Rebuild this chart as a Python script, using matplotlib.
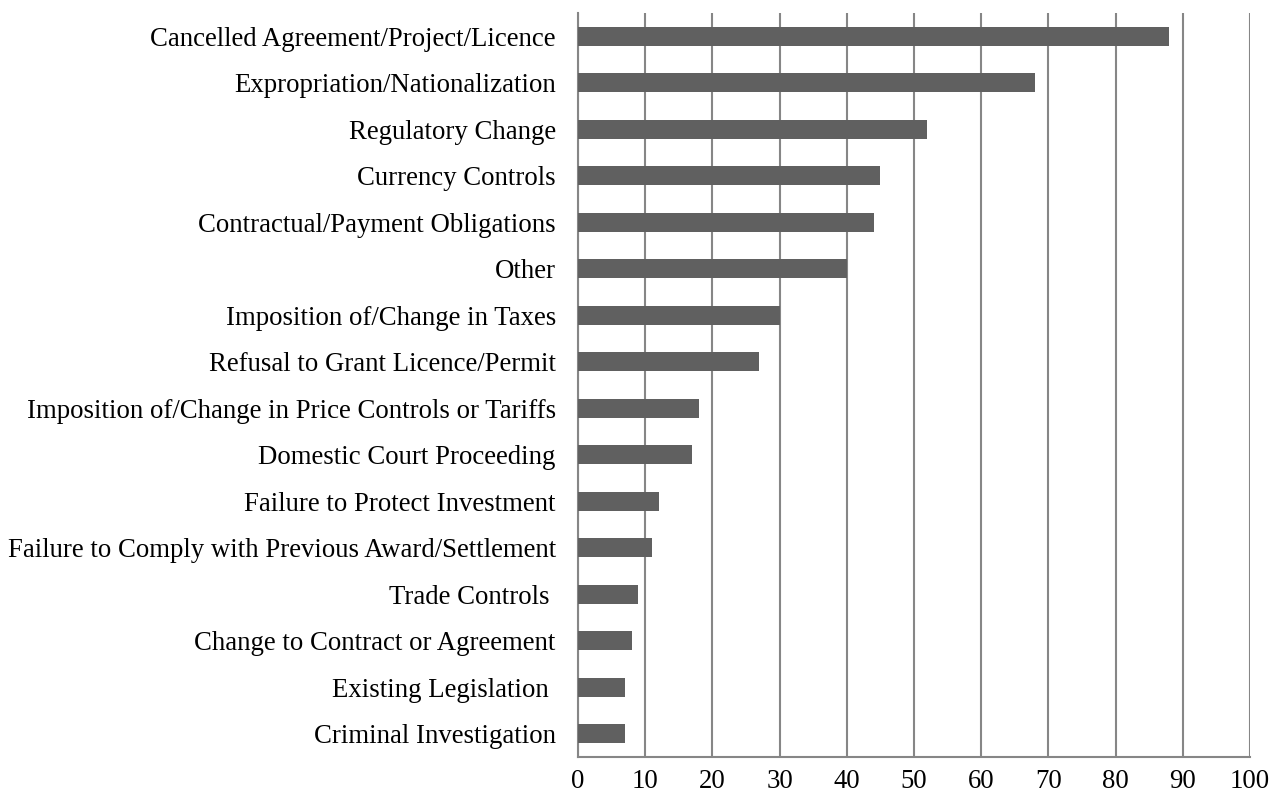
import matplotlib
matplotlib.use("Agg")
import matplotlib.pyplot as plt

categories = [
    "Cancelled Agreement/Project/Licence",
    "Expropriation/Nationalization",
    "Regulatory Change",
    "Currency Controls",
    "Contractual/Payment Obligations",
    "Other",
    "Imposition of/Change in Taxes",
    "Refusal to Grant Licence/Permit",
    "Imposition of/Change in Price Controls or Tariffs",
    "Domestic Court Proceeding",
    "Failure to Protect Investment",
    "Failure to Comply with Previous Award/Settlement",
    "Trade Controls ",
    "Change to Contract or Agreement",
    "Existing Legislation ",
    "Criminal Investigation",
]
values = [88, 68, 52, 45, 44, 40, 30, 27, 18, 17, 12, 11, 9, 8, 7, 7]
x_ticks = [0, 10, 20, 30, 40, 50, 60, 70, 80, 90, 100]

plt.rcParams['font.family'] = ['Liberation Serif', 'DejaVu Serif']

fig = plt.figure(figsize=(12.76, 7.98), dpi=100)
ax = fig.add_axes([578/1276, 1 - 757/798, (1250-578)/1276, (757-13)/798])

ypos = list(range(len(categories)))
ax.barh(ypos, values, height=0.4, color='#606060', zorder=3)
ax.set_ylim(len(categories) - 0.5, -0.5)
ax.set_xlim(0, 100)
ax.set_xticks(x_ticks)
ax.set_xticklabels([str(t) for t in x_ticks], fontsize=19.3)
ax.set_yticks(ypos)
ax.set_yticklabels(categories, fontsize=19.3)
ax.tick_params(axis='both', length=0, colors='black')
ax.tick_params(axis='x', pad=9)
ax.tick_params(axis='y', pad=16)
ax.grid(axis='x', color='#868686', linewidth=1.5, zorder=0)
for s in ['top', 'right']:
    ax.spines[s].set_visible(False)
for s in ['left', 'bottom']:
    ax.spines[s].set_color('#868686')
    ax.spines[s].set_linewidth(1.5)

fig.savefig('out.png', dpi=100)
